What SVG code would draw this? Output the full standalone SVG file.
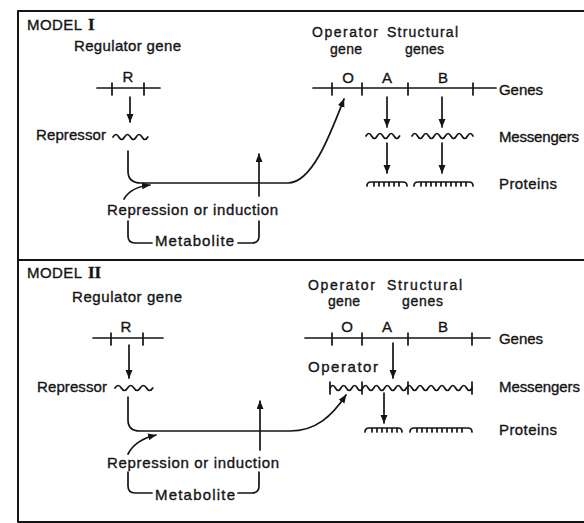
<svg xmlns="http://www.w3.org/2000/svg" width="584" height="523" viewBox="0 0 584 523">
<style>
text{font-family:"Liberation Sans","DejaVu Sans",sans-serif;font-size:15px;fill:#151515;stroke:#151515;stroke-width:0.35}
.rn{font-family:"Liberation Serif",serif;font-weight:bold;font-size:17px}
.s{font-size:14px}
.m{text-anchor:middle}
.ln{fill:none;stroke:#151515;stroke-width:1.7;stroke-linecap:round;stroke-linejoin:round}
.ar{marker-end:url(#ah)}
</style>
<defs>
<marker id="ah" markerUnits="userSpaceOnUse" markerWidth="9" markerHeight="8" refX="8" refY="3.5" orient="auto">
<path d="M0,0 L8.5,3.5 L0,7 z" fill="#151515"/>
</marker>
</defs>
<rect x="0" y="0" width="584" height="523" fill="#fff"/>
<g id="frame" class="ln">
<path d="M18,11 H590 M18,11 V522 H590 M18,260 H590" style="stroke-width:2"/>
</g>

<!-- MODEL I -->
<g id="m1-title"><text x="27" y="30" textLength="55">MODEL</text><text class="rn" x="88" y="30">I</text></g>
<g id="m1-regulator">
<text x="74" y="51" textLength="107">Regulator gene</text>
<text class="m" x="128" y="82">R</text>
<path class="ln" d="M97,88 H160 M112,83 V95 M144,83 V95"/>
</g>
<g id="m1-repressor">
<text x="36" y="140" textLength="70">Repressor</text>
<path class="ln" d="M113,137 q2.9,-5 5.8,0 t5.8,0 t5.8,0 t5.8,0 t5.8,0 t5.8,0"/>
</g>
<g id="m1-repression"><text x="107" y="215" textLength="171">Repression or induction</text></g>
<g id="m1-metabolite"><text x="155" y="246" textLength="79">Metabolite</text></g>
<g id="m1-operon">
<text class="s" x="312" y="37" textLength="66">Operator</text>
<text class="s" x="387" y="37" textLength="71">Structural</text>
<text class="s" x="330" y="54" textLength="32">gene</text>
<text class="s" x="405" y="54" textLength="39">genes</text>
<text class="m" x="348" y="83">O</text>
<text class="m" x="387" y="83">A</text>
<text class="m" x="443" y="83">B</text>
<path class="ln" d="M313,88 H496 M332,83 V95 M362,83 V95 M408,83 V95 M473,83 V95"/>
<text x="499" y="95" textLength="44">Genes</text>
</g>
<g id="m1-messengers">
<path class="ln" d="M366,136 q2.8,-5 5.6,0 t5.6,0 t5.6,0 t5.6,0 t5.6,0 t5.6,0"/>
<path class="ln" d="M412,136 q2.77,-5 5.55,0 t5.55,0 t5.55,0 t5.55,0 t5.55,0 t5.55,0 t5.55,0 t5.55,0 t5.55,0 t5.55,0 t5.55,0"/>
<text x="499" y="142" textLength="80">Messengers</text>
</g>
<g id="m1-proteins">
<path class="ln" d="M367,186 q0,-4 4,-4 H403 q4,0 4,4 M374,182 v4 M379,182 v4 M384,182 v4 M389,182 v4 M394,182 v4 M399,182 v4"/>
<path class="ln" d="M414,186 q0,-4 4,-4 H469 q4,0 4,4 M421,182 v4 M426,182 v4 M431,182 v4 M436,182 v4 M441,182 v4 M446,182 v4 M451,182 v4 M456,182 v4 M461,182 v4 M466,182 v4"/>
<text x="499" y="189" textLength="58">Proteins</text>
</g>

<!-- MODEL II -->
<g id="m2-title"><text x="27" y="278" textLength="55">MODEL</text><text class="rn" x="88" y="278">II</text></g>
<g id="m2-regulator">
<text x="72" y="302" textLength="110">Regulator gene</text>
<text class="m" x="126" y="332">R</text>
<path class="ln" d="M93,338 H163 M111,333 V345 M143,333 V345"/>
</g>
<g id="m2-repressor">
<text x="37" y="392" textLength="70">Repressor</text>
<path class="ln" d="M115,388 q3.15,-5 6.3,0 t6.3,0 t6.3,0 t6.3,0 t6.3,0 t6.3,0"/>
</g>
<g id="m2-repression"><text x="107" y="468" textLength="172">Repression or induction</text></g>
<g id="m2-metabolite"><text x="155" y="500" textLength="80">Metabolite</text></g>
<g id="m2-operon">
<text class="s" x="308" y="290" textLength="67">Operator</text>
<text class="s" x="387" y="290" textLength="75">Structural</text>
<text class="s" x="328" y="306" textLength="32">gene</text>
<text class="s" x="402" y="306" textLength="41">genes</text>
<text class="m" x="347" y="332">O</text>
<text class="m" x="387" y="332">A</text>
<text class="m" x="443" y="332">B</text>
<path class="ln" d="M305,338 H490 M332,333 V345 M362,333 V345 M408,333 V345 M472,333 V345"/>
<text x="499" y="344" textLength="44">Genes</text>
</g>
<g id="m2-messengers">
<text x="308" y="372" textLength="70">Operator</text>
<path class="ln" d="M330,388 q2.73,-5 5.46,0 t5.46,0 t5.46,0 t5.46,0 t5.46,0 t5.46,0 t5.46,0 t5.46,0 t5.46,0 t5.46,0 t5.46,0 t5.46,0 t5.46,0 t5.46,0 t5.46,0 t5.46,0 t5.46,0 t5.46,0 t5.46,0 t5.46,0 t5.46,0 t5.46,0 t5.46,0 t5.46,0 t5.46,0 t5.46,0"/>
<path class="ln" d="M330,382 V394 M362,382 V394 M408,382 V394 M472,382 V394"/>
<text x="499" y="392" textLength="81">Messengers</text>
</g>
<g id="m2-proteins">
<path class="ln" d="M365,432 q0,-4 4,-4 H398 q4,0 4,4 M372,428 v4 M377,428 v4 M382,428 v4 M387,428 v4 M392,428 v4 M397,428 v4"/>
<path class="ln" d="M410,432 q0,-4 4,-4 H468 q4,0 4,4 M417,428 v4 M422,428 v4 M427,428 v4 M432,428 v4 M437,428 v4 M442,428 v4 M447,428 v4 M452,428 v4 M457,428 v4 M462,428 v4"/>
<text x="499" y="435" textLength="58">Proteins</text>
</g>

<g id="connectors" class="ln">
<!-- Model I -->
<path class="ar" d="M130,97 V122"/>
<path class="ar" d="M128,151 V171 Q128,183 141,183 H288 C312,183 330,135 344,99"/>
<path class="ar" d="M259,196 V154"/>
<path class="ar" d="M124,199 Q131,187 150,185"/>
<path d="M128,221 V236 Q128,243 135,243 H152 M238,243 H252 Q259,243 259,236 V221"/>
<path class="ar" d="M387,97 V127"/>
<path class="ar" d="M442,97 V127"/>
<path class="ar" d="M387,143 V173"/>
<path class="ar" d="M442,143 V173"/>
<!-- Model II -->
<path class="ar" d="M129,345 V378"/>
<path class="ar" d="M128,397 V420 Q128,431 140,431 H290 C316,431 332,416 346,395"/>
<path class="ar" d="M260,450 V401"/>
<path class="ar" d="M128,454 Q135,440 156,435"/>
<path d="M128,472 V486 Q128,493 135,493 H152 M238,493 H252 Q259,493 259,486 V472"/>
<path class="ar" d="M393,343 V378"/>
<path class="ar" d="M384,393 V423"/>
</g>
</svg>
